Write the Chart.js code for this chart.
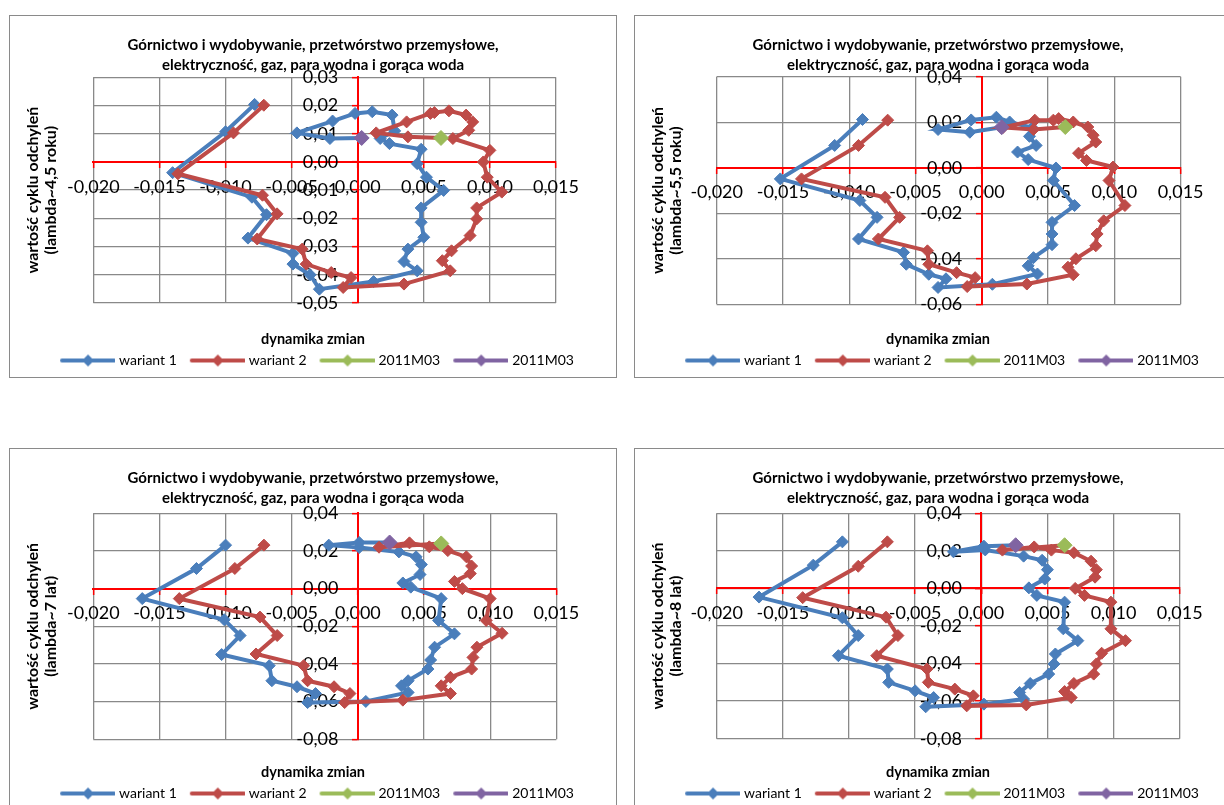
<!DOCTYPE html>
<html>
<head>
<meta charset="utf-8">
<script src="https://cdn.jsdelivr.net/npm/chart.js@4.4.1/dist/chart.umd.min.js"></script>
<style>
  html, body { margin: 0; padding: 0; background: #fff; width: 1224px; height: 805px; overflow: hidden; position: relative; }
  .panel { position: absolute; background: #fff; }
  .panel canvas { position: absolute; left: 0; top: 0; }
  .frame { position: absolute; left: 0; top: 0; right: 0; bottom: 0; border: 1.5px solid #8a8a8a; box-sizing: border-box; pointer-events: none; }
</style>
</head>
<body>
<div class="panel" style="left:9px;top:15px;width:608px;height:363px"><canvas id="c1" width="608" height="363"></canvas><div class="frame"></div></div>
<div class="panel" style="left:634px;top:15px;width:608px;height:363px"><canvas id="c2" width="608" height="363"></canvas><div class="frame"></div></div>
<div class="panel" style="left:9px;top:448px;width:608px;height:370px"><canvas id="c3" width="608" height="370"></canvas><div class="frame"></div></div>
<div class="panel" style="left:634px;top:448px;width:608px;height:370px"><canvas id="c4" width="608" height="370"></canvas><div class="frame"></div></div>

<script>
// ---- chart text ----
const chartTitle = ['Górnictwo i wydobywanie, przetwórstwo przemysłowe,', 'elektryczność, gaz, para wodna i gorąca woda'];
const xTitle = 'dynamika zmian';
const yTitleMain = 'wartość cyklu odchyleń';
const yTitleLambda = ['(lambda~4,5 roku)', '(lambda~5,5 roku)', '(lambda~7 lat)', '(lambda~8 lat)'];
const seriesNames = ['wariant 1', 'wariant 2', '2011M03', '2011M03'];

// ---- axis ranges [min, max, step] ----
const xRange = [-0.020, 0.015, 0.005];
const yRangeTop = [-0.05, 0.03, 0.01];      // lambda~4,5
const yRangeTop2 = [-0.06, 0.04, 0.02];     // lambda~5,5
const yRangeBottom = [-0.08, 0.04, 0.02];   // lambda~7 and lambda~8

// ---- lambda~4,5 roku ----
const p1Wariant1 = [
  [-0.0078, 0.0204], [-0.0100, 0.0107], [-0.0140, -0.0038], [-0.0080, -0.0125], [-0.0069, -0.0187],
  [-0.0083, -0.0270], [-0.0049, -0.0324], [-0.0049, -0.0362], [-0.0036, -0.0400], [-0.0029, -0.0451],
  [0.0012, -0.0424], [0.0045, -0.0386], [0.0035, -0.0353], [0.0038, -0.0309], [0.0050, -0.0267],
  [0.0048, -0.0214], [0.0048, -0.0163], [0.0065, -0.0101], [0.0052, -0.0054], [0.0045, -0.0006],
  [0.0048, 0.0045], [0.0024, 0.0065], [0.0017, 0.0083], [0.0028, 0.0110], [0.0026, 0.0166],
  [0.0011, 0.0178], [-0.0002, 0.0172], [-0.0019, 0.0145], [-0.0046, 0.0103], [-0.0021, 0.0083],
  [0.0003, 0.0085]
];
const p1Wariant2 = [
  [-0.0071, 0.0201], [-0.0094, 0.0103], [-0.0136, -0.0042], [-0.0072, -0.0118], [-0.0061, -0.0184],
  [-0.0076, -0.0273], [-0.0042, -0.0309], [-0.0039, -0.0362], [-0.0020, -0.0392], [-0.0005, -0.0410],
  [-0.0011, -0.0445], [0.0035, -0.0433], [0.0070, -0.0386], [0.0064, -0.0350], [0.0071, -0.0315],
  [0.0085, -0.0261], [0.0090, -0.0202], [0.0090, -0.0163], [0.0109, -0.0107], [0.0098, -0.0054],
  [0.0095, 0.0000], [0.0100, 0.0041], [0.0072, 0.0083], [0.0084, 0.0112], [0.0087, 0.0142],
  [0.0082, 0.0166], [0.0069, 0.0181], [0.0058, 0.0175], [0.0055, 0.0172], [0.0037, 0.0142],
  [0.0014, 0.0103], [0.0038, 0.0089], [0.0063, 0.0085]
];

// ---- lambda~5,5 roku ----
const p2Wariant1 = [
  [-0.0090, 0.0212], [-0.0111, 0.0098], [-0.0152, -0.0049], [-0.0092, -0.0144], [-0.0079, -0.0218],
  [-0.0093, -0.0313], [-0.0059, -0.0372], [-0.0057, -0.0424], [-0.0040, -0.0468], [-0.0027, -0.0488],
  [-0.0033, -0.0526], [0.0008, -0.0512], [0.0042, -0.0467], [0.0035, -0.0431], [0.0039, -0.0395],
  [0.0053, -0.0338], [0.0053, -0.0291], [0.0053, -0.0240], [0.0070, -0.0166], [0.0054, -0.0056],
  [0.0056, -0.0001], [0.0035, 0.0036], [0.0027, 0.0069], [0.0041, 0.0098], [0.0036, 0.0138],
  [0.0038, 0.0176], [0.0021, 0.0201], [0.0011, 0.0222], [-0.0008, 0.0210], [-0.0033, 0.0168],
  [-0.0009, 0.0156], [0.0015, 0.0178]
];
const p2Wariant2 = [
  [-0.0071, 0.0209], [-0.0093, 0.0098], [-0.0136, -0.0049], [-0.0073, -0.0130], [-0.0062, -0.0218],
  [-0.0078, -0.0313], [-0.0041, -0.0365], [-0.0040, -0.0424], [-0.0019, -0.0461], [-0.0005, -0.0483],
  [-0.0011, -0.0522], [0.0034, -0.0511], [0.0069, -0.0470], [0.0065, -0.0437], [0.0071, -0.0400],
  [0.0086, -0.0343], [0.0087, -0.0291], [0.0092, -0.0233], [0.0108, -0.0166], [0.0096, -0.0056],
  [0.0099, 0.0003], [0.0079, 0.0032], [0.0073, 0.0064], [0.0086, 0.0113], [0.0084, 0.0143],
  [0.0080, 0.0179], [0.0069, 0.0201], [0.0058, 0.0216], [0.0054, 0.0209], [0.0040, 0.0209],
  [0.0016, 0.0177], [0.0039, 0.0168], [0.0063, 0.0179]
];

// ---- lambda~7 lat ----
const p3Wariant1 = [
  [-0.0100, 0.0231], [-0.0122, 0.0107], [-0.0163, -0.0053], [-0.0101, -0.0165], [-0.0089, -0.0249],
  [-0.0103, -0.0350], [-0.0067, -0.0409], [-0.0065, -0.0489], [-0.0046, -0.0521], [-0.0032, -0.0557],
  [-0.0038, -0.0605], [0.0006, -0.0599], [0.0038, -0.0551], [0.0033, -0.0516], [0.0038, -0.0489],
  [0.0053, -0.0427], [0.0055, -0.0379], [0.0058, -0.0311], [0.0073, -0.0240], [0.0061, -0.0169],
  [0.0063, -0.0053], [0.0040, 0.0008], [0.0034, 0.0030], [0.0047, 0.0075], [0.0048, 0.0128],
  [0.0044, 0.0169], [0.0031, 0.0195], [0.0001, 0.0218], [-0.0022, 0.0231], [0.0001, 0.0245],
  [0.0024, 0.0245]
];
const p3Wariant2 = [
  [-0.0071, 0.0231], [-0.0093, 0.0107], [-0.0135, -0.0053], [-0.0074, -0.0151], [-0.0061, -0.0249],
  [-0.0077, -0.0347], [-0.0041, -0.0409], [-0.0038, -0.0489], [-0.0018, -0.0521], [-0.0006, -0.0557],
  [-0.0010, -0.0605], [0.0034, -0.0592], [0.0070, -0.0557], [0.0063, -0.0516], [0.0070, -0.0471],
  [0.0086, -0.0427], [0.0087, -0.0365], [0.0090, -0.0311], [0.0109, -0.0237], [0.0097, -0.0169],
  [0.0100, -0.0053], [0.0079, 0.0000], [0.0073, 0.0038], [0.0085, 0.0080], [0.0086, 0.0120],
  [0.0082, 0.0169], [0.0068, 0.0202], [0.0054, 0.0222], [0.0039, 0.0243], [0.0016, 0.0220],
  [0.0063, 0.0240]
];

// ---- lambda~8 lat ----
const p4Wariant1 = [
  [-0.0105, 0.0248], [-0.0127, 0.0124], [-0.0168, -0.0046], [-0.0105, -0.0156], [-0.0093, -0.0251],
  [-0.0108, -0.0358], [-0.0071, -0.0429], [-0.0070, -0.0500], [-0.0050, -0.0545], [-0.0036, -0.0581],
  [-0.0042, -0.0630], [0.0002, -0.0616], [0.0032, -0.0589], [0.0029, -0.0554], [0.0037, -0.0506],
  [0.0051, -0.0456], [0.0055, -0.0402], [0.0056, -0.0349], [0.0073, -0.0278], [0.0062, -0.0215],
  [0.0063, -0.0073], [0.0042, -0.0037], [0.0036, 0.0003], [0.0048, 0.0050], [0.0050, 0.0100],
  [0.0046, 0.0150], [0.0032, 0.0172], [0.0003, 0.0205], [-0.0021, 0.0195], [0.0002, 0.0225],
  [0.0026, 0.0230]
];
const p4Wariant2 = [
  [-0.0071, 0.0248], [-0.0093, 0.0118], [-0.0135, -0.0049], [-0.0072, -0.0153], [-0.0063, -0.0251],
  [-0.0079, -0.0358], [-0.0041, -0.0429], [-0.0040, -0.0500], [-0.0020, -0.0536], [-0.0006, -0.0572],
  [-0.0011, -0.0625], [0.0034, -0.0620], [0.0068, -0.0581], [0.0063, -0.0549], [0.0070, -0.0506],
  [0.0085, -0.0456], [0.0087, -0.0402], [0.0091, -0.0345], [0.0109, -0.0278], [0.0098, -0.0215],
  [0.0098, -0.0073], [0.0078, -0.0037], [0.0071, 0.0000], [0.0086, 0.0060], [0.0087, 0.0100],
  [0.0083, 0.0145], [0.0070, 0.0190], [0.0053, 0.0204], [0.0040, 0.0221], [0.0016, 0.0204],
  [0.0063, 0.0230]
];

// ---- styling ----
const FONT = 'Lato, "Open Sans", "DejaVu Sans", sans-serif';
const BLUE = '#4A7EBB', RED = '#BE4B48', GREEN = '#9BBB59', PURPLE = '#8064A2';
const GRID = '#898989';

// Legend swatch: a short line with a diamond marker in its middle.
function legendIcon(color) {
  const c = document.createElement('canvas');
  c.width = 66; c.height = 14;
  const g = c.getContext('2d');
  g.strokeStyle = color; g.lineWidth = 4; g.lineCap = 'round';
  g.beginPath(); g.moveTo(13, 7); g.lineTo(65, 7); g.stroke();
  g.fillStyle = color;
  g.beginPath(); g.moveTo(39 - 6, 7); g.lineTo(39, 1); g.lineTo(39 + 6, 7); g.lineTo(39, 13); g.closePath(); g.fill();
  return c;
}
const icons = [legendIcon(BLUE), legendIcon(RED), legendIcon(GREEN), legendIcon(PURPLE)];

const toXY = arr => arr.map(p => ({ x: p[0], y: p[1] }));
const fmt = (v, d) => { if (Math.abs(v) < 1e-12) v = 0; return v.toFixed(d).replace('.', ','); };
const tickFont = { family: FONT, size: 18 };

function buildPanel(id, w1, w2, yRange, lambda, box) {
  const last1 = w1[w1.length - 1], last2 = w2[w2.length - 1];
  const series = (label, data, color, r, order) => ({
    label, data: toXY(data), showLine: true, borderColor: color, backgroundColor: color,
    borderWidth: 4, pointStyle: 'rectRot', pointRadius: r, pointHoverRadius: r,
    pointBorderWidth: 1, pointBackgroundColor: color, pointBorderColor: color,
    tension: 0, order, xAxisID: 'x', yAxisID: 'y', clip: false
  });
  new Chart(document.getElementById(id), {
    type: 'scatter',
    data: {
      datasets: [
        series(seriesNames[0], w1, BLUE, 6, 3),
        series(seriesNames[1], w2, RED, 6, 2),
        series(seriesNames[2], [last2], GREEN, 7.5, 1),
        series(seriesNames[3], [last1], PURPLE, 7.5, 0)
      ]
    },
    options: {
      responsive: false, animation: false, events: [],
      layout: { padding: { top: 0, left: 0, right: 0, bottom: box.padBottom } },
      plugins: {
        tooltip: { enabled: false },
        title: {
          display: true, text: chartTitle, color: '#000',
          font: { family: FONT, size: 15, weight: 'bold', lineHeight: 20 / 15 },
          padding: { top: 20, bottom: box.titleGap }
        },
        subtitle: {
          display: true, position: 'bottom', text: xTitle, color: '#000', weight: 500,
          font: { family: FONT, size: 14.5, weight: 'bold', lineHeight: 16.8 / 14.5 },
          padding: { top: box.subTop, bottom: 1.1 }
        },
        legend: {
          display: true, position: 'bottom', weight: 1000,
          labels: {
            usePointStyle: true, pointStyleWidth: 60, padding: 5, color: '#000',
            font: { family: FONT, size: 14 },
            generateLabels: chart => chart.data.datasets.map((ds, i) => ({
              text: ds.label, fillStyle: ds.borderColor, strokeStyle: ds.borderColor,
              lineWidth: 0, pointStyle: icons[i], hidden: false, datasetIndex: i, fontColor: '#000'
            }))
          }
        }
      },
      scales: {
        x: {
          type: 'linear', position: { y: 0 }, min: xRange[0], max: xRange[1],
          ticks: {
            stepSize: xRange[2], autoSkip: false, maxRotation: 0, minRotation: 0, padding: 9,
            color: '#000', font: tickFont, callback: v => fmt(v, 3)
          },
          grid: { color: GRID, lineWidth: 1.3, drawTicks: true, tickLength: 5, tickColor: '#ff0000', tickWidth: 1.5 },
          border: { display: true, color: '#ff0000', width: 2 }
        },
        y: {
          type: 'linear', position: { x: 0 }, min: yRange[0], max: yRange[1],
          ticks: { stepSize: yRange[2], autoSkip: false, display: false },
          grid: { color: GRID, lineWidth: 1.3, drawTicks: true, tickLength: 5, tickColor: '#ff0000', tickWidth: 1.5 },
          border: { display: true, color: '#ff0000', width: 2 }
        },
        // value labels of the vertical axis, set a little to the left of the red axis line
        yLabels: {
          type: 'linear', position: { x: -0.00147 }, min: yRange[0], max: yRange[1],
          ticks: { stepSize: yRange[2], autoSkip: false, padding: 0, color: '#000', font: tickFont, callback: v => fmt(v, 2) },
          grid: { display: false, drawTicks: false }, border: { display: false }
        },
        yTitle: {
          type: 'linear', position: 'left', display: true,
          ticks: { display: false }, grid: { display: false, drawTicks: false }, border: { display: false },
          title: {
            display: true, text: [yTitleMain, lambda], color: '#000',
            font: { family: FONT, size: 16, weight: 'bold', lineHeight: 18 / 16 },
            padding: { top: 15, bottom: 0 }
          },
          afterFit: s => { s.width = box.left; }
        },
        yRight: {
          type: 'linear', position: 'right', display: true,
          ticks: { display: false }, grid: { display: false, drawTicks: false }, border: { display: false },
          title: { display: false },
          afterFit: s => { s.width = box.right; }
        }
      }
    }
  });
}

buildPanel('c1', p1Wariant1, p1Wariant2, yRangeTop, yTitleLambda[0],
  { left: 84.3, right: 61, titleGap: 2.3, subTop: 27.6, padBottom: 0.5 });
buildPanel('c2', p2Wariant1, p2Wariant2, yRangeTop2, yTitleLambda[1],
  { left: 82.7, right: 61.4, titleGap: 1.7, subTop: 26.3, padBottom: 0.5 });
buildPanel('c3', p3Wariant1, p3Wariant2, yRangeBottom, yTitleLambda[2],
  { left: 84.3, right: 60.7, titleGap: 5.3, subTop: 24.3, padBottom: 7.5 });
buildPanel('c4', p4Wariant1, p4Wariant2, yRangeBottom, yTitleLambda[3],
  { left: 82.7, right: 62.3, titleGap: 5.3, subTop: 24.9, padBottom: 7.5 });
</script>
</body>
</html>
